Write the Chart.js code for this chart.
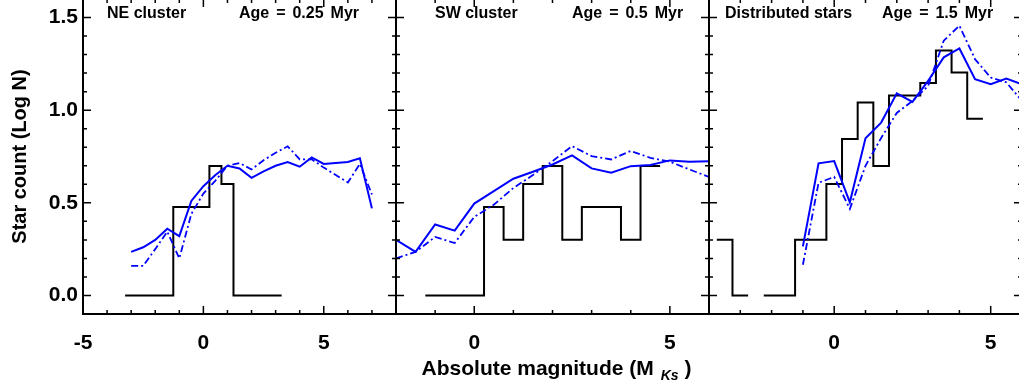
<!DOCTYPE html>
<html>
<head>
<meta charset="utf-8">
<script src="https://cdn.jsdelivr.net/npm/chart.js@4.4.1/dist/chart.umd.min.js"></script>
<style>
html, body { margin: 0; padding: 0; width: 1019px; height: 389px; overflow: hidden; background: #fff; }
canvas { position: absolute; top: -1px; }
</style>
</head>
<body>
<canvas id="neChart" width="400" height="390" style="left:0px"></canvas>
<canvas id="swChart" width="325" height="390" style="left:390px"></canvas>
<canvas id="distChart" width="325" height="390" style="left:703px"></canvas>
<script>
// observed histograms: bin centres (0.5 mag bins) and log10 star counts, null = empty bin
var neBins = [-3.0, -2.5, -2.0, -1.5, -1.0, -0.5, 0.0, 0.5, 1.0, 1.5, 2.0, 2.5, 3.0];
var neCounts = [0, 0, 0, 0, 0.477, 0.477, 0.477, 0.699, 0.602, 0, 0, 0, 0];

var swBins = [-1.0, -0.5, 0.0, 0.5, 1.0, 1.5, 2.0, 2.5, 3.0, 3.5, 4.0, 4.5];
var swCounts = [0, 0, 0, 0.477, 0.301, 0.602, 0.699, 0.301, 0.477, 0.477, 0.301, 0.699];

var distBins = [-3.5, -3.0, -2.5, -2.0, -1.5, -1.0, -0.5, 0.0, 0.5, 1.0, 1.5, 2.0, 2.5, 3.0, 3.5, 4.0, 4.5];
var distCounts = [0.301, 0, null, 0, 0, 0.301, 0.301, 0.602, 0.845, 1.041, 0.699, 1.079, 1.079, 1.146, 1.322, 1.204, 0.954];

// model luminosity functions (solid and dash-dot)
var neModelMag = [-3.0, -2.5, -2.0, -1.5, -1.0, -0.5, 0.0, 0.5, 1.0, 1.5, 2.0, 2.5, 3.0, 3.5, 4.0, 4.5, 5.0, 5.5, 6.0, 6.5, 7.0];
var neModelSolid = [0.235, 0.26, 0.30, 0.36, 0.32, 0.51, 0.59, 0.65, 0.70, 0.685, 0.635, 0.67, 0.70, 0.72, 0.695, 0.745, 0.71, 0.715, 0.72, 0.74, 0.47];
var neModelDash = [0.16, 0.16, 0.25, 0.345, 0.20, 0.44, 0.55, 0.62, 0.70, 0.715, 0.68, 0.73, 0.77, 0.805, 0.735, 0.735, 0.69, 0.65, 0.61, 0.71, 0.545];

var swModelMag = [-2.0, -1.5, -1.0, -0.5, 0.0, 0.5, 1.0, 1.5, 2.0, 2.5, 3.0, 3.5, 4.0, 4.5, 5.0, 5.5, 6.0];
var swModelSolid = [0.30, 0.235, 0.383, 0.35, 0.496, 0.563, 0.63, 0.668, 0.707, 0.756, 0.686, 0.662, 0.698, 0.704, 0.729, 0.722, 0.725];
var swModelDash = [0.20, 0.235, 0.316, 0.283, 0.424, 0.49, 0.58, 0.65, 0.725, 0.806, 0.752, 0.734, 0.78, 0.743, 0.722, 0.68, 0.64];

var distModelMag = [-1.0, -0.5, 0.0, 0.5, 1.0, 1.5, 2.0, 2.5, 3.0, 3.5, 4.0, 4.5, 5.0, 5.5, 6.0];
var distModelSolid = [0.265, 0.713, 0.725, 0.503, 0.848, 0.933, 1.091, 1.045, 1.158, 1.285, 1.333, 1.167, 1.14, 1.171, 1.14];
var distModelDash = [0.166, 0.608, 0.64, 0.467, 0.70, 0.85, 0.985, 1.05, 1.13, 1.375, 1.456, 1.275, 1.176, 1.15, 1.05];

// tick labels
var yTickVals = [0.0, 0.5, 1.0, 1.5];
var neXTicks = [-5, 0, 5];
var swXTicks = [0, 5];
var distXTicks = [0, 5];

var FONT = '"Liberation Sans", Arial, Helvetica, sans-serif';

function histPoints(centres, counts) {
    var pts = [];
    for (var i = 0; i < centres.length; i++) {
        if (counts[i] === null) {
            pts.push({x: centres[i], y: null});
        } else {
            pts.push({x: centres[i] - 0.25, y: counts[i]});
            pts.push({x: centres[i] + 0.25, y: counts[i]});
        }
    }
    return pts;
}

function linePoints(xs, ys) {
    return xs.map(function(x, i) { return {x: x, y: ys[i]}; });
}

function noScalePadding(scale) {
    scale.paddingTop = 0;
    scale.paddingBottom = 0;
    scale.paddingLeft = 0;
    scale.paddingRight = 0;
}

// box with inward ticks on all four sides
var framePlugin = {
    id: 'frame',
    afterDraw: function(chart) {
        var a = chart.chartArea, ctx = chart.ctx;
        var xs = chart.scales.x, ys = chart.scales.y;
        ctx.save();
        ctx.strokeStyle = '#000';
        ctx.lineWidth = 1.5;
        ctx.beginPath();
        for (var v = Math.ceil(xs.min); v <= xs.max; v++) {
            var px = xs.getPixelForValue(v);
            var len = (v % 5 === 0) ? 8 : 4;
            ctx.moveTo(px, a.bottom); ctx.lineTo(px, a.bottom - len);
            ctx.moveTo(px, a.top); ctx.lineTo(px, a.top + len);
        }
        for (var i = 0; i <= 15; i++) {
            var py = ys.getPixelForValue(i / 10);
            var l2 = (i % 5 === 0) ? 8 : 4;
            ctx.moveTo(a.left, py); ctx.lineTo(a.left + l2, py);
            ctx.moveTo(a.right, py); ctx.lineTo(a.right - l2, py);
        }
        ctx.stroke();
        ctx.lineWidth = 2;
        ctx.strokeRect(a.left, a.top, a.right - a.left, a.bottom - a.top);
        ctx.restore();
    }
};

var panelTextPlugin = {
    id: 'panelText',
    afterDraw: function(chart, args, opts) {
        var a = chart.chartArea, ctx = chart.ctx;
        ctx.save();
        ctx.fillStyle = '#000';
        ctx.font = 'bold 16px ' + FONT;
        ctx.textBaseline = 'alphabetic';
        ctx.fillText(opts.name, a.left + opts.nameX, a.top + 19);
        if ('wordSpacing' in ctx) ctx.wordSpacing = '2.5px';
        ctx.fillText(opts.age, a.left + opts.ageX, a.top + 19);
        ctx.restore();
    }
};

var xTitlePlugin = {
    id: 'xTitle',
    afterDraw: function(chart) {
        var a = chart.chartArea, ctx = chart.ctx;
        var main = 'Absolute magnitude (M', sub = 'Ks', close = ' )';
        var f1 = 'bold 21px ' + FONT, f2 = 'italic bold 14px ' + FONT;
        ctx.save();
        ctx.fillStyle = '#000';
        ctx.textBaseline = 'alphabetic';
        ctx.font = f1;
        var w1 = ctx.measureText(main).width, w3 = ctx.measureText(close).width;
        ctx.font = f2;
        var w2 = ctx.measureText(sub).width;
        var gap = 7;
        var x = (a.left + a.right) / 2 + 4 - (w1 + gap + w2 + w3) / 2;
        var y = a.bottom + 61;
        ctx.font = f1;
        ctx.fillText(main, x, y);
        ctx.font = f2;
        ctx.fillText(sub, x + w1 + gap, y + 5);
        ctx.font = f1;
        ctx.fillText(close, x + w1 + gap + w2, y);
        ctx.restore();
    }
};

function makePanel(id, bins, counts, mags, solid, dash, xMin, xMax, xTicks, showY, padL, padR, text, extraPlugins) {
    var ctx = document.getElementById(id);
    return new Chart(ctx, {
        type: 'line',
        data: {
            datasets: [{
                data: linePoints(mags, solid),
                borderColor: '#0000ff',
                borderWidth: 2
            }, {
                data: linePoints(mags, dash),
                borderColor: '#0000ff',
                borderWidth: 1.8,
                borderDash: [7, 3, 2, 3]
            }, {
                data: histPoints(bins, counts),
                borderColor: '#000000',
                borderWidth: 2,
                spanGaps: false
            }]
        },
        options: {
            responsive: false,
            devicePixelRatio: 1,
            animation: false,
            events: [],
            layout: {
                autoPadding: false,
                padding: {left: padL, right: padR, top: 0, bottom: 0}
            },
            elements: {
                point: {radius: 0},
                line: {tension: 0, fill: false, borderCapStyle: 'butt', borderJoinStyle: 'miter'}
            },
            plugins: {
                legend: {display: false},
                tooltip: {enabled: false},
                panelText: text
            },
            scales: {
                x: {
                    type: 'linear',
                    min: xMin,
                    max: xMax,
                    grid: {display: false, drawTicks: false},
                    border: {display: false},
                    afterBuildTicks: function(scale) {
                        scale.ticks = xTicks.map(function(v) { return {value: v}; });
                    },
                    afterFit: function(scale) {
                        scale.height = 75;
                        noScalePadding(scale);
                    },
                    ticks: {
                        autoSkip: false,
                        maxRotation: 0,
                        padding: 17,
                        color: '#000',
                        font: {family: FONT, size: 21, weight: 'bold'},
                        callback: function(v) { return String(v); }
                    }
                },
                y: {
                    type: 'linear',
                    display: showY,
                    min: -0.1,
                    max: 1.6,
                    grid: {display: false, drawTicks: false},
                    border: {display: false},
                    afterBuildTicks: function(scale) {
                        scale.ticks = yTickVals.map(function(v) { return {value: v}; });
                    },
                    afterFit: function(scale) {
                        if (showY) scale.width = 83;
                        noScalePadding(scale);
                    },
                    title: {
                        display: true,
                        text: 'Star count (Log N)',
                        color: '#000',
                        font: {family: FONT, size: 20, weight: 'bold'},
                        padding: {top: 8, bottom: 0}
                    },
                    ticks: {
                        padding: 5,
                        color: '#000',
                        font: {family: FONT, size: 21, weight: 'bold'},
                        callback: function(v) { return Number(v).toFixed(1); }
                    }
                }
            }
        },
        plugins: [framePlugin, panelTextPlugin].concat(extraPlugins || [])
    });
}

makePanel('neChart', neBins, neCounts, neModelMag, neModelSolid, neModelDash,
    -5, 8, neXTicks, true, 0, 4,
    {name: 'NE cluster', age: 'Age = 0.25 Myr', nameX: 24, ageX: 156});

makePanel('swChart', swBins, swCounts, swModelMag, swModelSolid, swModelDash,
    -2, 6, swXTicks, false, 6, 6,
    {name: 'SW cluster', age: 'Age = 0.5 Myr', nameX: 39, ageX: 176}, [xTitlePlugin]);

makePanel('distChart', distBins, distCounts, distModelMag, distModelSolid, distModelDash,
    -4, 6, distXTicks, false, 6, 6,
    {name: 'Distributed stars', age: 'Age = 1.5 Myr', nameX: 16, ageX: 173});
</script>
</body>
</html>
